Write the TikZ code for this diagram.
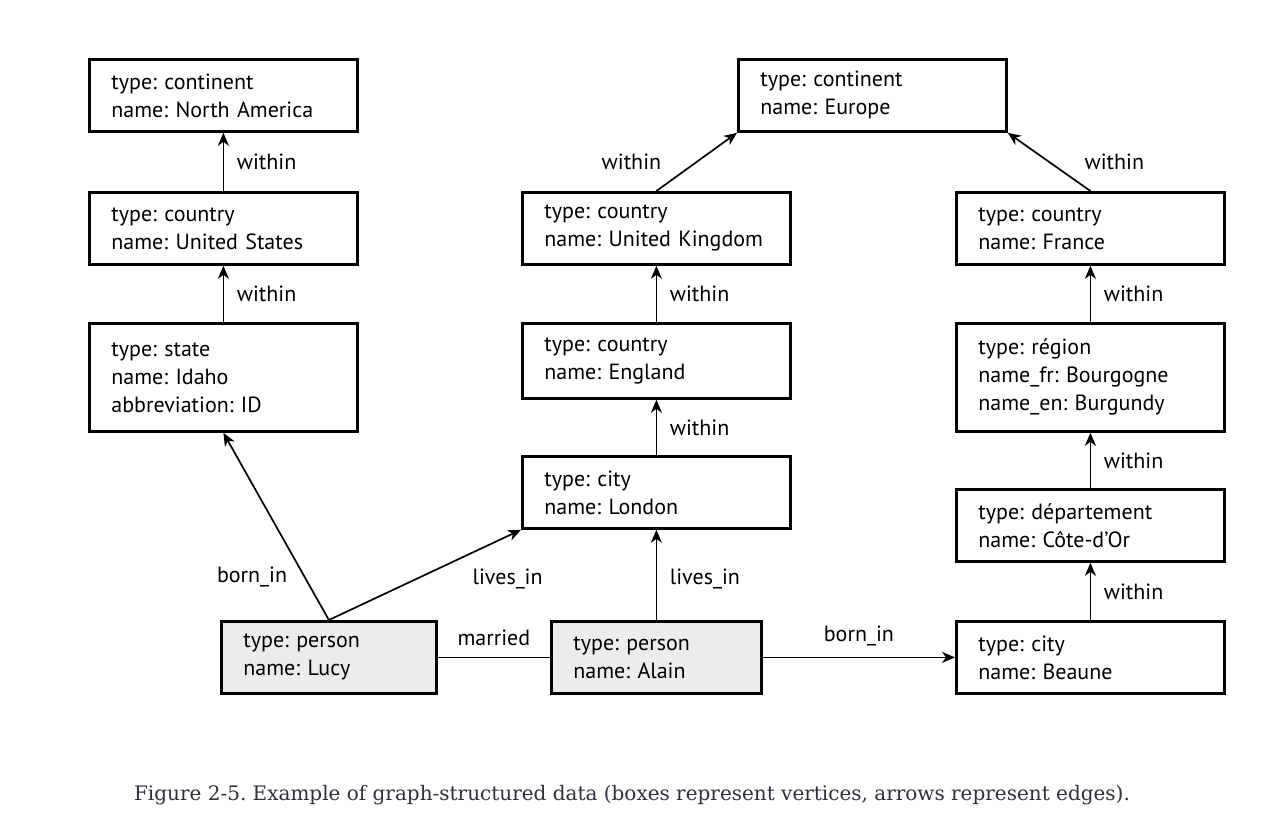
\documentclass[tikz,border=0pt]{standalone}
\usepackage{fontspec}
\setmainfont{PT Sans}
\newfontfamily\capfont{DejaVu Serif}
\usetikzlibrary{arrows.meta}
\frenchspacing
\definecolor{persongray}{HTML}{ECECEC}
\definecolor{captiongray}{HTML}{30303C}
\tikzset{
  vertex/.style={draw, line width=1.4pt, anchor=north west, inner xsep=11pt,
    text width=112pt, minimum height=36pt, align=left,
    font=\fontsize{11}{14}\selectfont},
  person/.style={vertex, fill=persongray},
  lbl/.style={font=\fontsize{11}{14}\selectfont}
}

\begin{document}
\begin{tikzpicture}[->,>={Stealth[length=6.5pt,width=5.5pt,inset=2pt]},x=0.5pt,y=-0.5pt,line width=0.85pt]
  \useasboundingbox (0,0) rectangle (1264,836);

  \node[vertex]   (NA) at (88,58)   {type: continent\\name: North America};
  \node[vertex]   (US) at (88,191)  {type: country\\name: United States};
  \node[vertex, minimum height=54pt] (ID) at (88,322) {type: state\\name: Idaho\\abbreviation: ID};
  \node[vertex]   (EU) at (737,58)  {type: continent\\name: Europe};
  \node[vertex]   (UK) at (521,191) {type: country\\name: United Kingdom};
  \node[vertex, minimum height=37.5pt] (EN) at (521,322) {type: country\\name: England};
  \node[vertex]   (LO) at (521,455) {type: city\\name: London};
  \node[vertex]   (FR) at (955,191) {type: country\\name: France};
  \node[vertex, minimum height=54pt] (BG) at (955,322) {type: région\\name\_fr: Bourgogne\\name\_en: Burgundy};
  \node[vertex]   (CO) at (955,488) {type: département\\name: Côte-d’Or};
  \node[vertex]   (BE) at (955,620) {type: city\\name: Beaune};
  \node[person, text width=85.5pt] (LU) at (220,620) {type: person\\name: Lucy};
  \node[person, text width=83pt]   (AL) at (550,620) {type: person\\name: Alain};

  \path[every node/.style={lbl}]
    (US) edge node[right=3pt] {within} (NA)
    (ID) edge node[right=3pt] {within} (US)
    (UK.north) edge node[midway, left=14pt] {within} (EU.south west)
    (FR.north) edge node[midway, right=14pt] {within} (EU.south east)
    (EN) edge node[right=3pt] {within} (UK)
    (LO) edge node[right=3pt] {within} (EN)
    (BG) edge node[right=3pt] {within} (FR)
    (CO) edge node[right=3pt] {within} (BG)
    (BE) edge node[right=3pt] {within} (CO)
    (LU.north) edge node[pos=0.23, left=5pt] {born\_in} (ID.south)
    (LU.north) edge node[pos=0.48, anchor=west, xshift=22pt, yshift=-1pt] {lives\_in} (LO.south west)
    (AL.north -| LO.south) edge node[pos=0.46, right=3pt] {lives\_in} (LO.south)
    (LU) edge[-] node[above=2pt] {married} (AL)
    (AL) edge node[above=2pt] {born\_in} (BE);

  \node[font=\capfont\fontsize{10}{12}\selectfont, text=captiongray] (cap) at (632,795)
    {Figure 2-5. Example of graph-structured data (boxes represent vertices, arrows represent edges).};
\end{tikzpicture}
\end{document}
